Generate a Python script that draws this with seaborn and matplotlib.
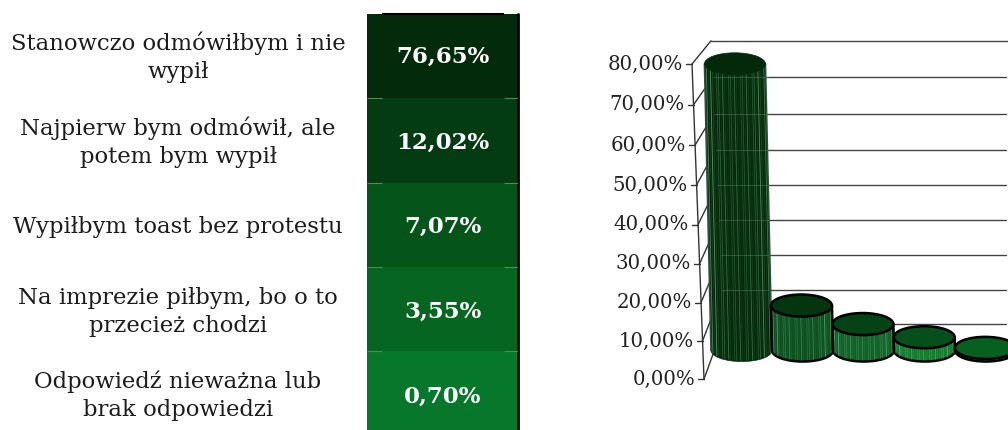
import numpy as np
import matplotlib
matplotlib.use("Agg")
import matplotlib.pyplot as plt
from matplotlib.colors import ListedColormap
from matplotlib.patches import Ellipse
from matplotlib.transforms import Affine2D
import seaborn as sns

# data
answers = ["Stanowczo odmówiłbym i nie\nwypił",
           "Najpierw bym odmówił, ale\npotem bym wypił",
           "Wypiłbym toast bez protestu",
           "Na imprezie piłbym, bo o to\nprzecież chodzi",
           "Odpowiedź nieważna lub\nbrak odpowiedzi"]
shares = [76.65, 12.02, 7.07, 3.55, 0.70]
tick_values = [0, 10, 20, 30, 40, 50, 60, 70, 80]

row_colors = ["#032a0b", "#033c12", "#05541a", "#066520", "#07782b"]
body_colors = ["#03290a", "#0a4f1d", "#0e6026", "#147a30", "#0c6428"]
lid_colors = ["#03290a", "#03350f", "#044314", "#05501a", "#06601f"]
label_baseline = [78, 163, 233, 332, 416]  # px, last line of each label
value_shift = [1, 2, 2.5, 3, 3]  # px below the row centre

W, H = 1008, 430
FONT = "DejaVu Serif"
sns.set_theme(style="white")
plt.rcParams["font.family"] = FONT


def px_rect(x0, y0, x1, y1):
    return [x0 / W, 1 - y1 / H, (x1 - x0) / W, (y1 - y0) / H]


def pct(v):
    return f"{v:.2f}".replace(".", ",") + "%"


# the walls of the 3D chart run in perspective, so ticks are placed by these
def front_y(v):
    return 379 - 3.78 * v - 0.00196 * v ** 2


def front_x(v):
    return 704 - 12 * v / 80


def back_y(v):
    return 324 - 3.4 * v - 0.00175 * v ** 2


def back_x(v):
    return 711 + 13 * (1 - v / 80)


fig = plt.figure(figsize=(W / 100, H / 100), dpi=100, facecolor="white")

# pixel layer: labels, walls and ticks
ax_px = fig.add_axes([0, 0, 1, 1], zorder=0)
ax_px.set_xlim(0, W)
ax_px.set_ylim(H, 0)
ax_px.axis("off")

for txt, y in zip(answers, label_baseline):
    ax_px.text(178, y, txt, ha="center", va="baseline", multialignment="center",
               fontsize=16.4, color="#1c1c1c", linespacing=1.34)

ax_px.plot([front_x(80), front_x(0)], [front_y(80), front_y(0)], color="#333333", lw=1)
for v in tick_values:
    x, y = front_x(v), front_y(v)
    bx, by = back_x(v), back_y(v)
    ax_px.plot([x - 6, x], [y, y], color="#333333", lw=1)
    ax_px.plot([x, bx], [y, by], color="#333333", lw=1)
    ax_px.plot([bx, 1008 if v == 80 else 1006], [by, by], color="#444444", lw=1)
    ax_px.text(x - 9, y, pct(v), ha="right", va="center", fontsize=14.2, color="#222222")

# table on the left
row_h = 84.3
ax_table = fig.add_axes(px_rect(367, 14, 518, 14 + 5 * row_h), zorder=1)
sns.heatmap(np.arange(5).reshape(-1, 1), ax=ax_table, cmap=ListedColormap(row_colors),
            annot=np.array([[pct(v)] for v in shares]), fmt="", cbar=False,
            xticklabels=False, yticklabels=False,
            annot_kws={"color": "white", "fontsize": 16.5, "fontweight": "bold", "family": FONT})
for label, shift in zip(ax_table.texts, value_shift):
    label.set_y(label.get_position()[1] + shift / row_h)
ax_table.axvline(1, color="black", lw=2, clip_on=False)
ax_table.hlines(0, 0.1, 0.91, color="black", lw=1.5, clip_on=False)
ax_table.hlines(range(1, 5), 0, 0.1, color="#4f8a5f", lw=0.8)
ax_table.hlines(range(1, 5), 0.91, 1, color="#4f8a5f", lw=0.8)

# cylinders
unit = 3.74  # px per percent
base = 350.5
ax_bars = fig.add_axes(px_rect(711, base - 85 * unit, 1016, base + 5 * unit), zorder=2)
ax_bars.patch.set_alpha(0)
sns.barplot(x=answers, y=shares, hue=answers, palette=body_colors, saturation=1,
            width=1, legend=False, ax=ax_bars, linewidth=0)
ax_bars.set_xlim(-0.5, 4.5)
ax_bars.set_ylim(-5, 85)
ax_bars.axis("off")

lean = Affine2D.from_values(1, 0, -0.0014, 1, 0, 0) + ax_bars.transData
lid_h = 5.9
stripe_alpha = [0.28, 0.07, 0.40, 0.12, 0.05, 0.24]

for i, bar in enumerate(ax_bars.patches):
    cx = bar.get_x() + bar.get_width() / 2
    top = bar.get_height()
    w = bar.get_width()
    edge = body_colors[0] if i == 0 else "black"
    side_color = "#2f5237" if i == 0 else "black"
    lw = 0.5 if i == 0 else 1.8
    bar.set_transform(lean)
    bar.set_clip_on(False)
    bar.set_zorder(3)

    bottom = Ellipse((cx, 0), w, lid_h, fc=body_colors[i], ec=edge, lw=lw,
                     transform=lean, zorder=2, clip_on=False)
    ax_bars.add_patch(bottom)

    for k, t in enumerate(np.linspace(-0.47, 0.47, 30)):
        low = -lid_h / 2 * np.sqrt(1 - (2 * t) ** 2)
        a = stripe_alpha[k % len(stripe_alpha)] * (1 + 1.2 * abs(2 * t) ** 3)
        ax_bars.plot([cx + t * w, cx + t * w], [low + 0.3, top], color="#8fd09f",
                     lw=0.6, alpha=min(a, 1), transform=lean, zorder=4, clip_on=False)

    for side in (-0.5, 0.5):
        ax_bars.plot([cx + side * w] * 2, [0, top], color=side_color, lw=max(lw, 1.2),
                     transform=lean, zorder=5, clip_on=False)

    lid = Ellipse((cx, top), w, lid_h, fc=lid_colors[i], ec=edge, lw=lw,
                  transform=lean, zorder=6, clip_on=False)
    ax_bars.add_patch(lid)

# gridlines show faintly through the tall cylinder
ax_over = fig.add_axes([0, 0, 1, 1], zorder=3)
ax_over.set_xlim(0, W)
ax_over.set_ylim(H, 0)
ax_over.axis("off")
for v in tick_values[1:-1]:
    ax_over.plot([back_x(v), 768], [back_y(v), back_y(v)], color="#7a9a80", lw=0.7, alpha=0.35)

fig.savefig("out.png", dpi=100)
